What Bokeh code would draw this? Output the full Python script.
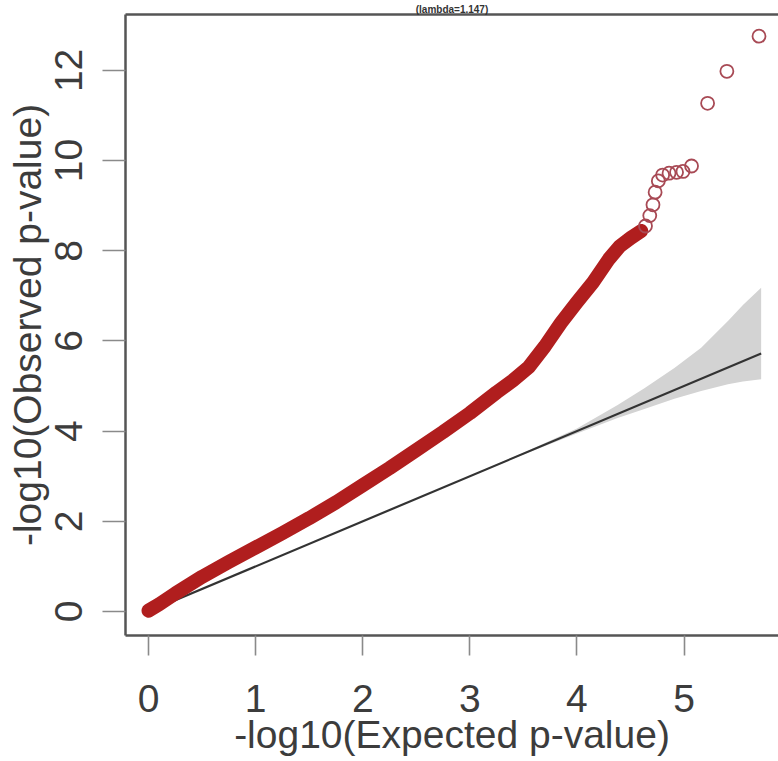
from bokeh.plotting import figure
from bokeh.models import Range1d, LinearAxis, FixedTicker
from bokeh.embed import file_html
from bokeh.resources import INLINE

# ---- data ----
# dense band of observed vs expected -log10 p-values
obs_x = [0.00, 0.10, 0.25, 0.50, 0.75, 1.00, 1.25, 1.50, 1.75, 2.00, 2.25, 2.50,
         2.75, 3.00, 3.25, 3.40, 3.55, 3.70, 3.85, 4.00, 4.15, 4.30, 4.40, 4.50, 4.60]
obs_y = [0.02, 0.16, 0.40, 0.77, 1.10, 1.42, 1.74, 2.07, 2.42, 2.80, 3.18, 3.58,
         3.98, 4.40, 4.86, 5.12, 5.42, 5.88, 6.40, 6.86, 7.30, 7.82, 8.10, 8.28, 8.44]
# sparse tail points (drawn as open circles)
tail_x = [4.64, 4.68, 4.71, 4.73, 4.76, 4.80, 4.86, 4.93, 4.99, 5.07, 5.22, 5.40, 5.70]
tail_y = [8.55, 8.78, 9.02, 9.30, 9.55, 9.68, 9.72, 9.74, 9.76, 9.88, 11.27, 11.98, 12.76]
# expected line y = x
ref_x = [0.0, 5.72]
ref_y = [0.0, 5.72]
# confidence band
ci_x = [0.0, 1.0, 2.0, 3.0, 3.5, 4.0, 4.38, 4.63, 4.91, 5.16, 5.41, 5.55, 5.72]
ci_upper = [0.0, 1.0, 2.0, 3.01, 3.52, 4.06, 4.58, 4.95, 5.40, 5.85, 6.44, 6.80, 7.18]
ci_lower = [0.0, 1.0, 2.0, 2.99, 3.48, 3.95, 4.29, 4.49, 4.72, 4.89, 5.04, 5.10, 5.15]
# ticks
x_ticks = [0, 1, 2, 3, 4, 5]
y_ticks = [0, 2, 4, 6, 8, 10, 12]

title_text = "(lambda=1.147)"
x_title = "-log10(Expected p-value)"
y_title = "-log10(Observed p-value)"

FONT = "Liberation Sans"
FS = "39px"
TXT = "#3c3c3c"
BOX = "#555555"
TICK = "#8a8a8a"

p = figure(width=778, height=761, output_backend="svg", toolbar_location=None,
           x_range=Range1d(-0.215, 5.882), y_range=Range1d(-0.532, 13.24),
           min_border_left=125, min_border_right=0, min_border_top=13,
           min_border_bottom=126)
p.xgrid.visible = False
p.ygrid.visible = False
p.outline_line_color = None
p.background_fill_color = "white"
p.border_fill_color = "white"

# glyphs
p.varea(x=ci_x, y1=ci_lower, y2=ci_upper, fill_color="#d3d3d3", fill_alpha=1.0)
p.line(ref_x, ref_y, line_color="#333333", line_width=2.2)
p.line(obs_x, obs_y, line_color="#b01e1e", line_width=14, line_cap="round",
       line_join="round")
p.scatter(tail_x, tail_y, marker="circle", size=13, fill_color=None,
          line_color="#a84a55", line_width=1.8)

def style_axis(ax, ticks):
    ax.ticker = FixedTicker(ticks=ticks)
    ax.axis_line_color = BOX
    ax.axis_line_width = 2.5
    ax.major_tick_line_color = TICK
    ax.major_tick_line_width = 1.6
    ax.major_tick_in = 0
    ax.minor_tick_line_color = None
    ax.major_label_text_font = FONT
    ax.major_label_text_font_size = FS
    ax.major_label_text_color = TXT
    ax.axis_label_text_font = FONT
    ax.axis_label_text_font_size = FS
    ax.axis_label_text_font_style = "normal"
    ax.axis_label_text_color = TXT

xa = p.xaxis[0]
style_axis(xa, x_ticks)
xa.major_tick_out = 20
xa.major_label_standoff = 29
xa.axis_label = x_title
xa.axis_label_standoff = -2

ya = p.yaxis[0]
style_axis(ya, y_ticks)
ya.major_tick_out = 23
ya.major_label_standoff = 20
ya.major_label_orientation = "vertical"
ya.axis_label = y_title
ya.axis_label_standoff = 4

# top side of the box, carrying the (mostly cropped) title text
top = LinearAxis(ticker=FixedTicker(ticks=[]), axis_line_color=BOX,
                 axis_line_width=2.5, major_tick_out=0, major_tick_in=0,
                 minor_tick_line_color=None, major_label_text_font_size="0px",
                 major_label_standoff=0,
                 axis_label=title_text, axis_label_standoff=0,
                 axis_label_text_font=FONT, axis_label_text_font_size="10px",
                 axis_label_text_font_style="bold",
                 axis_label_text_color="#333333")
p.add_layout(top, "above")

open("out.html", "w").write(file_html(p, INLINE))
